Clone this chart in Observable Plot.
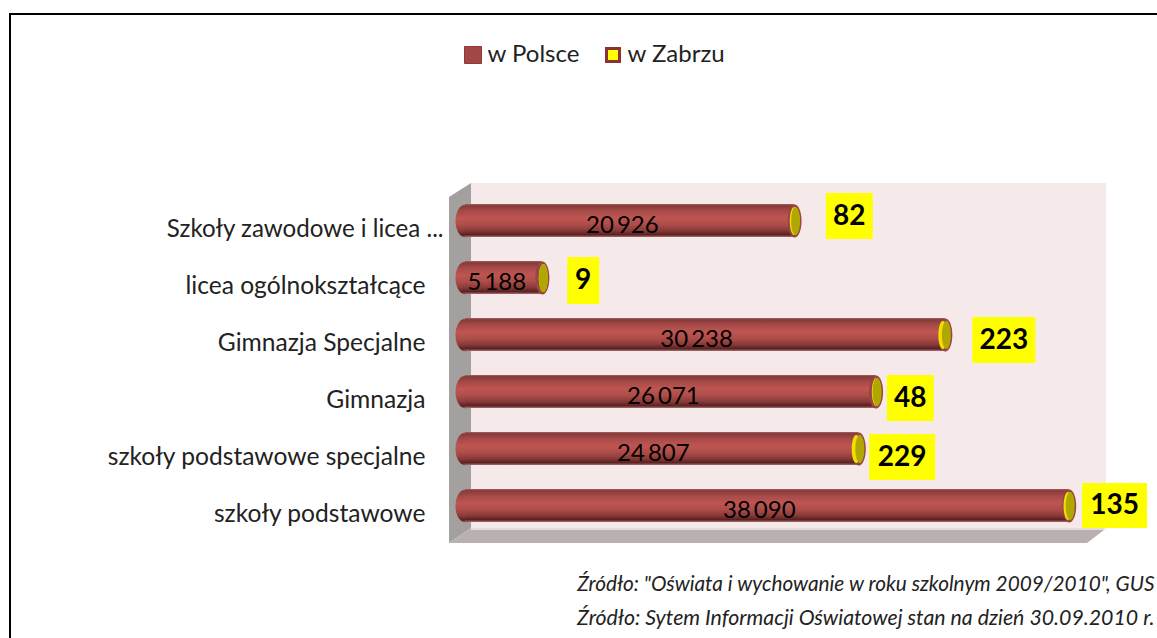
<!DOCTYPE html>
<html><head><meta charset="utf-8">
<style>html,body{margin:0;padding:0;background:#fff;overflow:hidden}svg{display:block}</style>
<script src="https://cdn.jsdelivr.net/npm/d3@7"></script>
<script src="https://cdn.jsdelivr.net/npm/@observablehq/plot@0.6"></script>
</head><body><script>
const categories = ["Szkoły zawodowe i licea ...","licea ogólnokształcące","Gimnazja Specjalne","Gimnazja","szkoły podstawowe specjalne","szkoły podstawowe"];
const wPolsce = [20926,5188,30238,26071,24807,38090];
const wZabrzu = [82,9,223,48,229,135];
const polskaLabels = ["20\u2009926","5\u2009188","30\u2009238","26\u2009071","24\u2009807","38\u2009090"];
const seriesNames = ["w Polsce","w Zabrzu"];
const sources = ["Źródło: \"Oświata i wychowanie w roku szkolnym 2009/2010\", GUS","Źródło: Sytem Informacji Oświatowej stan na dzień 30.09.2010 r."];
const xMax = 40000;
const rows = categories.map((c,i)=>({c,p:wPolsce[i],z:wZabrzu[i],s:wPolsce[i]+wZabrzu[i],l:polskaLabels[i]}));
const font = "Lato, Carlito, sans-serif";
const ellipse=(rx,ry)=>({draw(c){const k=.5523;c.moveTo(rx,0);c.bezierCurveTo(rx,ry*k,rx*k,ry,0,ry);c.bezierCurveTo(-rx*k,ry,-rx,ry*k,-rx,0);c.bezierCurveTo(-rx,-ry*k,-rx*k,-ry,0,-ry);c.bezierCurveTo(rx*k,-ry,rx,-ry*k,rx,0);c.closePath();}});
const box=(w,h)=>({draw(c){c.moveTo(-w/2,-h/2);c.lineTo(w/2,-h/2);c.lineTo(w/2,h/2);c.lineTo(-w/2,h/2);c.closePath();}});

function scene(index,{x,y},values,dim){
  const g=d3.create("svg:g");
  const defs=g.append("defs");
  const gr=defs.append("linearGradient").attr("id","cyl").attr("x1",0).attr("x2",0).attr("y1",0).attr("y2",1);
  [[0,"#a56462"],[.05,"#873b39"],[.22,"#a84b49"],[.42,"#bf5551"],[.62,"#ad4d4a"],[.8,"#8a3a38"],[.93,"#5a2120"],[1,"#a57070"]]
    .forEach(([o,c])=>gr.append("stop").attr("offset",o).attr("stop-color",c));
  const L=x(0), R=x(xMax), T=dim.marginTop, B=dim.height-dim.marginBottom;
  const poly=(pts,fill)=>g.append("polygon").attr("points",pts.map(p=>p.join(",")).join(" ")).attr("fill",fill);
  poly([[L+6,T-7],[R+3,T-7],[R+3,B-6],[L+6,B-6]],"#f5e9e9");
  poly([[L-16,T+7],[L+6,T-7],[L+6,B-8],[L-16,B+7]],"#a3a0a0");
  poly([[L-16,B+7],[L+6,B-8],[R+1,B-6],[R-16,B+7]],"#b9b0b0");
  poly([[L+6,B-8],[R+1,B-8],[R+1,B-6],[L+6,B-6]],"#e6dcdc");
  g.append("path").attr("d",`M10,${dim.height}V14H${dim.width}`).attr("fill","none").attr("stroke","#000").attr("stroke-width",2);
  return g.node();
}

const shift=[[50,-5,47,46],[35,2.5,32,47],[56,5,63,46],[29,6,47,46],[41,8,66,46],[41.5,-.5,65,45]];
const labelMarks=rows.flatMap((r,i)=>{const [dx,dy,w,h]=shift[i];return [
  Plot.dot([r],{x:"p",y:"c",dx,dy,symbol:box(w,h),fill:"#ffff00",stroke:"none"}),
  Plot.text([r],{x:"p",y:"c",dx,dy,text:d=>String(d.z),fontSize:28,fontWeight:700,fill:"#000",fontFamily:font})
];});
const mLeft=465, mTop=190;

const plot=Plot.plot({
  width:1157,height:638,marginLeft:mLeft,marginRight:54,marginTop:mTop,marginBottom:102,
  style:{background:"#fff",fontFamily:font},
  x:{domain:[0,xMax],axis:null},
  y:{domain:categories,axis:null,paddingInner:.427,paddingOuter:.2135},
  marks:[
    scene,
    Plot.axisY(categories.slice(1),{anchor:"left",tickSize:0,tickPadding:40,dy:8.5,fontSize:24.6,fill:"#222",label:null,fontFamily:font}),
    Plot.axisY(categories.slice(0,1),{anchor:"left",tickSize:0,tickPadding:22,dy:8.5,fontSize:24.1,fill:"#222",label:null,fontFamily:font}),
    Plot.dot(rows,{x:()=>0,y:"c",symbol:ellipse(10,16.5),fill:"url(#cyl)",stroke:"none"}),
    Plot.barX(rows,{x1:()=>0,x2:"s",y:"c",dx:-6,insetLeft:6,fill:"url(#cyl)"}),
    Plot.dot(rows,{x:"s",y:"c",dx:-6,symbol:ellipse(7,16.5),fill:"#9a4644",stroke:"none"}),
    Plot.dot(rows,{x:"p",y:"c",dx:-5,symbol:ellipse(4.5,14),fill:"#f2de00",stroke:"none"}),
    Plot.dot(rows,{x:"s",y:"c",dx:-5,symbol:ellipse(4.5,14),fill:"#b0a800",stroke:"none"}),
    Plot.text(rows,{x:d=>d.p/2,y:"c",dy:4,text:"l",fontSize:24,fill:"#000",fontFamily:font,dx:-10}),
    ...labelMarks,
    // legend
    Plot.dot([0],{frameAnchor:"top-left",dx:472.5-mLeft,dy:54.5-mTop,symbol:box(17,17),fill:"#a34644",stroke:"#8a3a38",strokeWidth:1}),
    Plot.text([seriesNames[0]],{frameAnchor:"top-left",dx:487-mLeft,dy:54-mTop,text:d=>d,textAnchor:"start",lineAnchor:"middle",fontSize:24,fill:"#222",fontFamily:font}),
    Plot.dot([0],{frameAnchor:"top-left",dx:612.5-mLeft,dy:54.5-mTop,symbol:box(13,13),fill:"#ffff00",stroke:"#8a3432",strokeWidth:3}),
    Plot.text([seriesNames[1]],{frameAnchor:"top-left",dx:627-mLeft,dy:54-mTop,text:d=>d,textAnchor:"start",lineAnchor:"middle",fontSize:24,fill:"#222",fontFamily:font}),
    // sources
    Plot.text([sources[0]],{frameAnchor:"bottom-right",dx:51,dy:54,text:d=>d,textAnchor:"end",fontSize:20.8,fontStyle:"italic",fill:"#222",fontFamily:font}),
    Plot.text([sources[1]],{frameAnchor:"bottom-right",dx:51,dy:88,text:d=>d,textAnchor:"end",fontSize:21.3,fontStyle:"italic",fill:"#222",fontFamily:font})
  ]
});
document.body.appendChild(plot);
</script></body></html>
